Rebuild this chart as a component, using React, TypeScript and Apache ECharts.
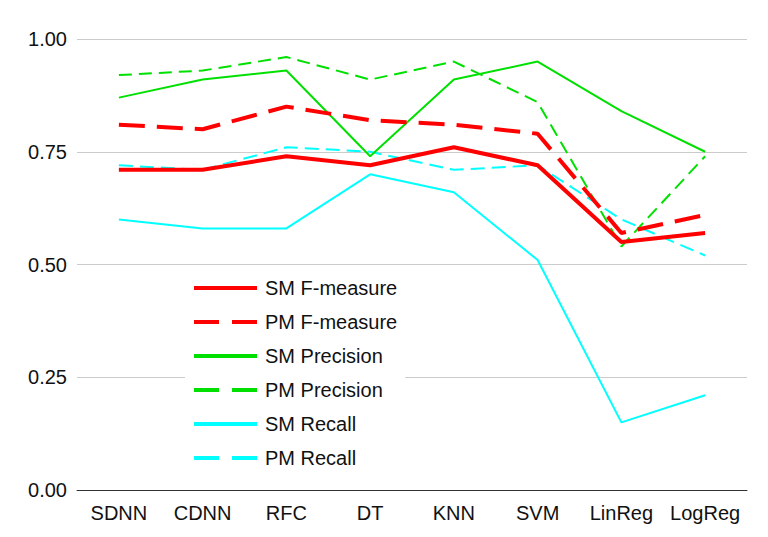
import React, { useEffect, useRef } from "react";
import * as echarts from "echarts";

const categories = ["SDNN", "CDNN", "RFC", "DT", "KNN", "SVM", "LinReg", "LogReg"];
const smFMeasure = [0.71, 0.71, 0.74, 0.72, 0.76, 0.72, 0.55, 0.57];
const pmFMeasure = [0.81, 0.80, 0.85, 0.82, 0.81, 0.79, 0.57, 0.61];
const smPrecision = [0.87, 0.91, 0.93, 0.74, 0.91, 0.95, 0.84, 0.75];
const pmPrecision = [0.92, 0.93, 0.96, 0.91, 0.95, 0.86, 0.54, 0.74];
const smRecall = [0.60, 0.58, 0.58, 0.70, 0.66, 0.51, 0.15, 0.21];
const pmRecall = [0.72, 0.71, 0.76, 0.75, 0.71, 0.72, 0.60, 0.52];
const yTicks = [0, 0.25, 0.5, 0.75, 1.0];

const RED = "#ff0000";
const GREEN = "#00e000";
const CYAN = "#00ffff";
const FONT = "'Liberation Sans', Arial, sans-serif";

export default function App() {
  const ref = useRef<HTMLDivElement>(null);
  useEffect(() => {
    if (!ref.current) return;
    const chart = echarts.init(ref.current, undefined, { renderer: "svg" });
    const mk = (name: string, data: number[], color: string, width: number, dash: any) => ({
      name,
      type: "line",
      data,
      symbol: "none",
      lineStyle: { color, width, type: dash },
      itemStyle: { color },
      z: 2,
    });
    const series = [
      mk("PM Recall", pmRecall, CYAN, 2, [14, 7]),
      mk("SM Recall", smRecall, CYAN, 2, "solid"),
      mk("PM Precision", pmPrecision, GREEN, 2, [13, 7]),
      mk("SM Precision", smPrecision, GREEN, 2, "solid"),
      mk("PM F-measure", pmFMeasure, RED, 4, [26, 12]),
      mk("SM F-measure", smFMeasure, RED, 4, "solid"),
    ];
    const legendItem = (name: string, color: string, dashed: boolean) => ({
      name,
      itemStyle: { opacity: 0 },
      lineStyle: { color, width: 4, type: dashed ? [25, 13] : "solid" },
    });
    chart.setOption({
      animation: false,
      backgroundColor: "#ffffff",
      textStyle: { fontFamily: FONT },
      grid: { left: 77, right: 21, top: 39, bottom: 47, containLabel: false },
      legend: {
        orient: "vertical",
        left: 185,
        top: 270,
        padding: [8, 8, 8, 7],
        backgroundColor: "#ffffff",
        itemWidth: 63,
        itemHeight: 20,
        itemGap: 14,
        textStyle: { fontSize: 20, color: "#111", fontFamily: FONT, lineHeight: 20, padding: [0, 0, 0, 3] },
        data: [
          legendItem("SM F-measure", RED, false),
          legendItem("PM F-measure", RED, true),
          legendItem("SM Precision", GREEN, false),
          legendItem("PM Precision", GREEN, true),
          legendItem("SM Recall", CYAN, false),
          legendItem("PM Recall", CYAN, true),
        ],
        z: 5,
      },
      xAxis: {
        type: "category",
        data: categories,
        boundaryGap: true,
        axisLine: { lineStyle: { color: "#333", width: 1 } },
        axisTick: { show: false },
        axisLabel: { fontSize: 20, color: "#111", margin: 13, fontFamily: FONT, interval: 0 },
      },
      yAxis: {
        type: "value",
        min: yTicks[0],
        max: yTicks[yTicks.length - 1],
        interval: 0.25,
        axisLine: { show: false },
        axisTick: { show: false },
        splitLine: { lineStyle: { color: "#cccccc", width: 1 } },
        axisLabel: {
          fontSize: 20,
          color: "#111",
          margin: 10,
          fontFamily: FONT,
          formatter: (v: number) => v.toFixed(2),
        },
      },
      series,
    });
    return () => chart.dispose();
  }, []);
  return (
    <div
      ref={ref}
      style={{ position: "fixed", left: 0, top: 0, width: 768, height: 537 }}
    />
  );
}
